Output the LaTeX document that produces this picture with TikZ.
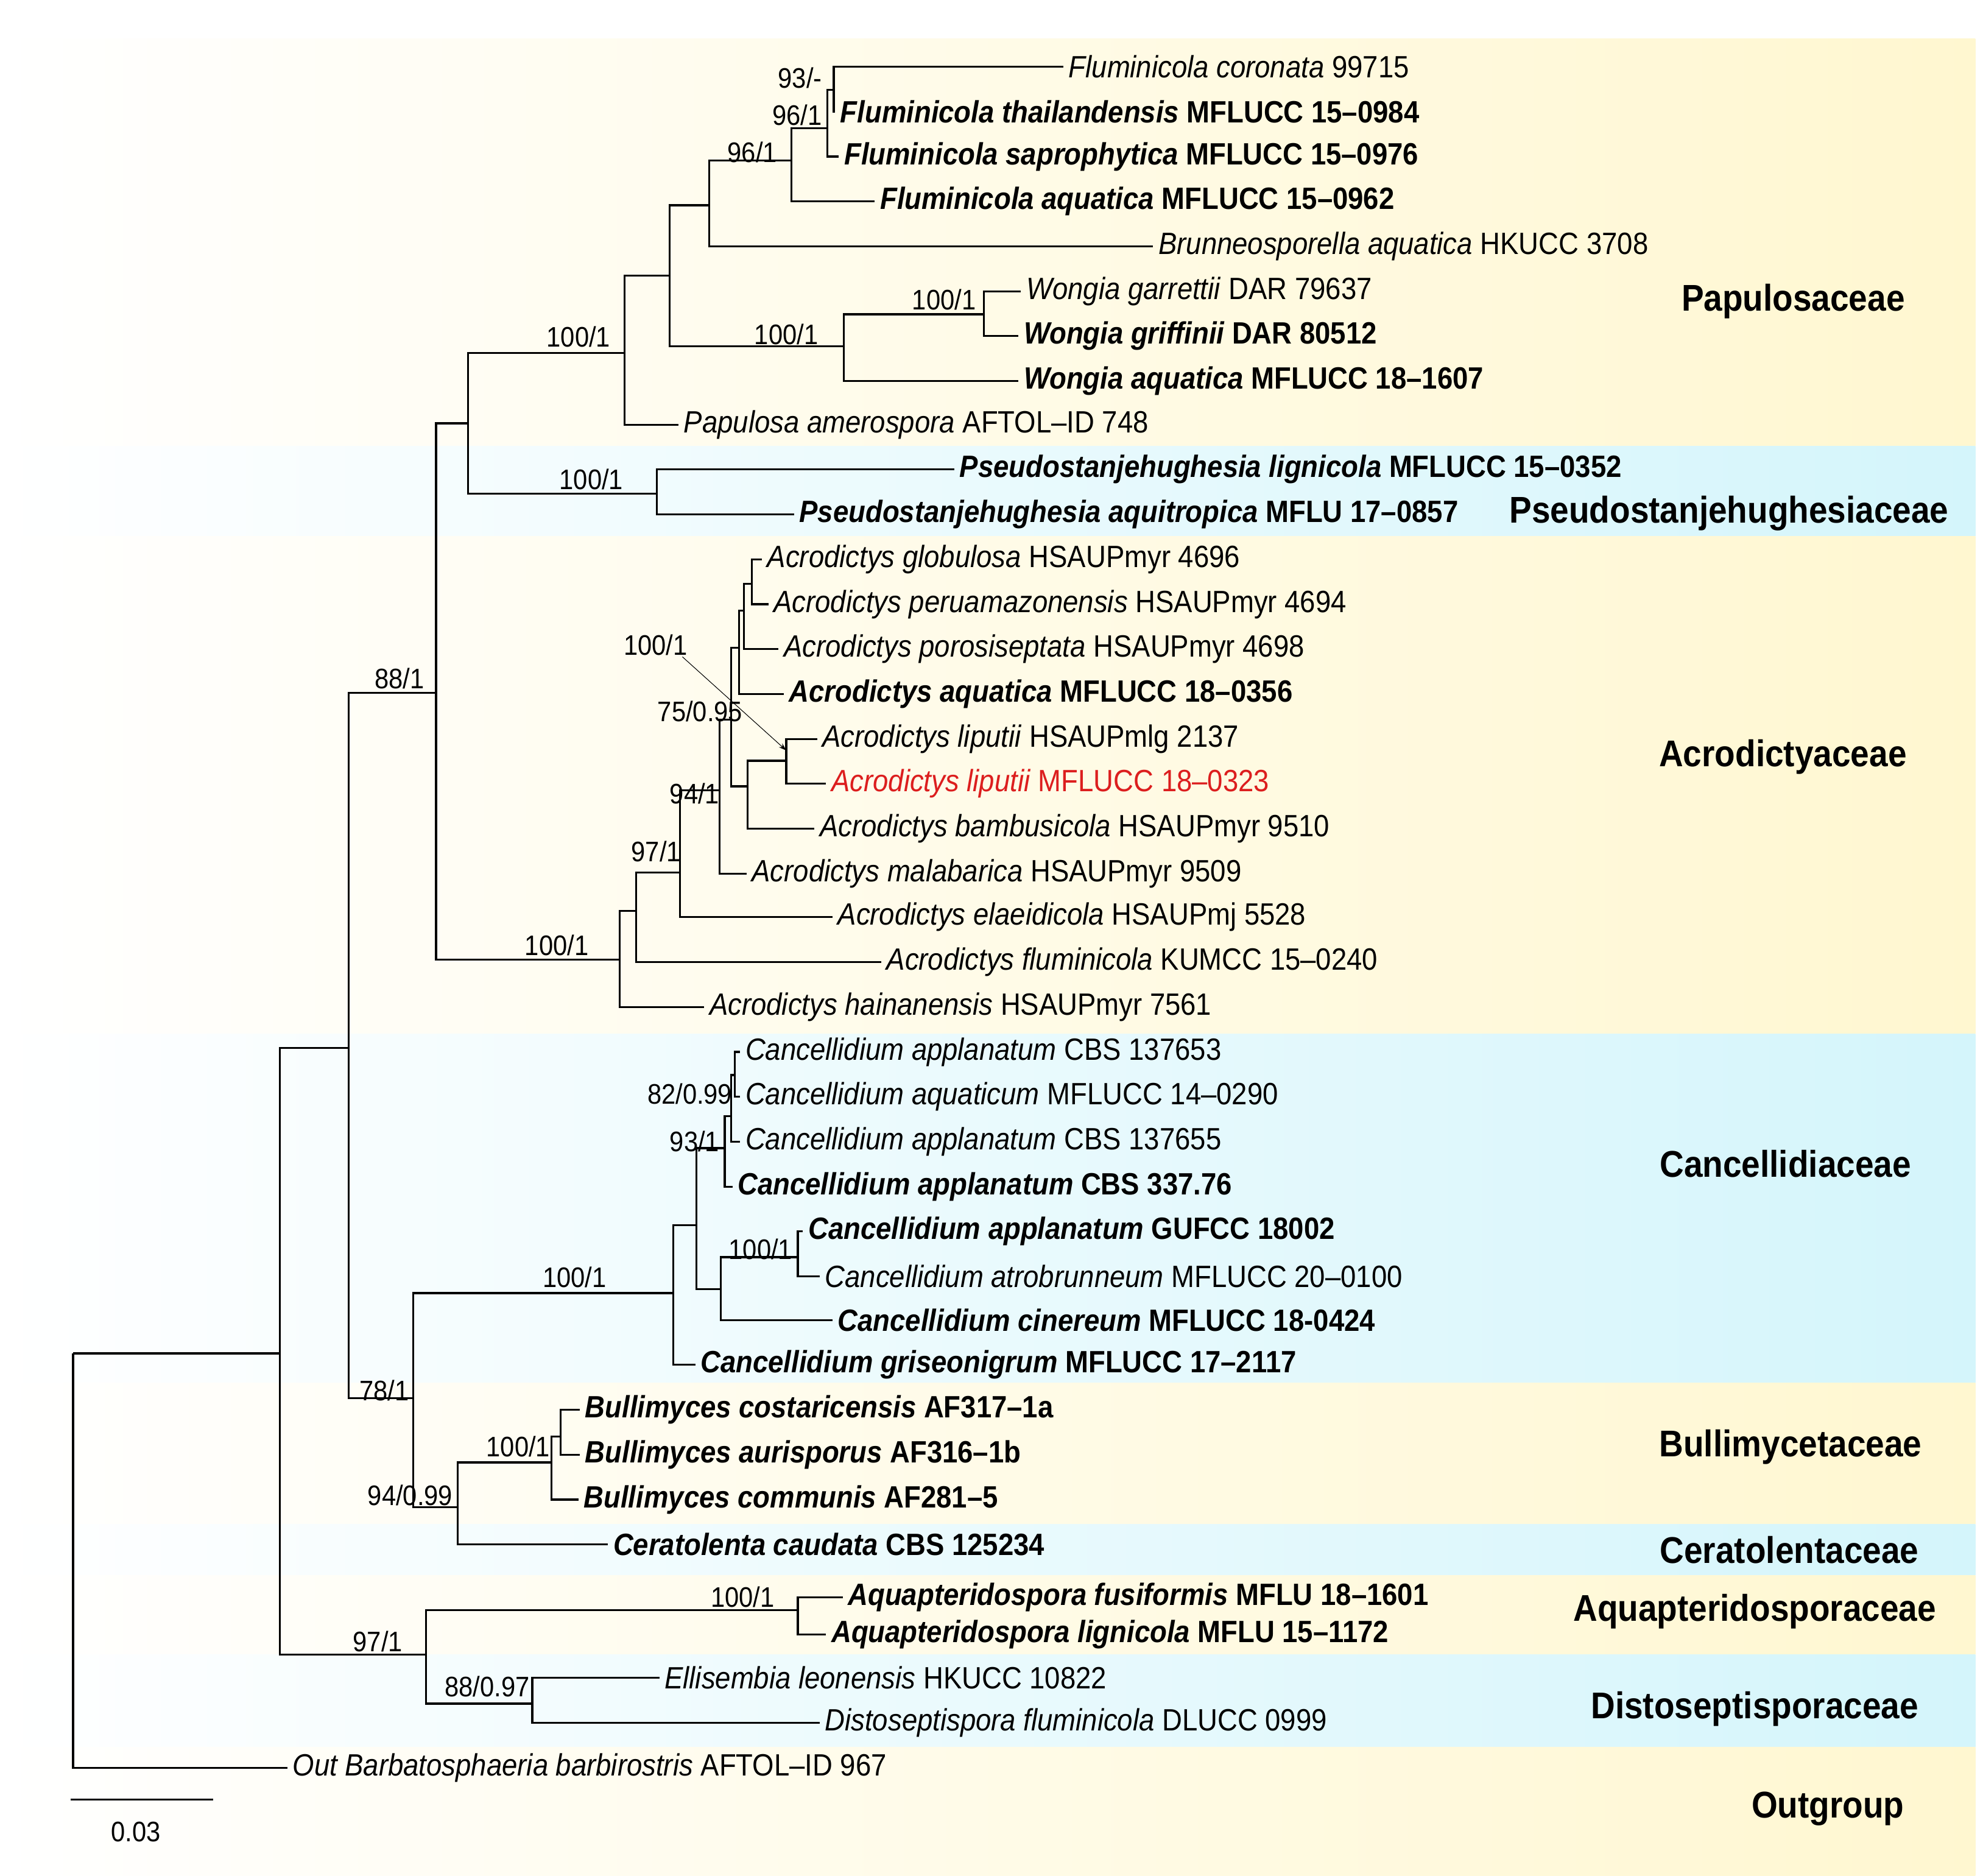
\documentclass[tikz,border=0pt]{standalone}
\usepackage{fontspec}
\setmainfont{Liberation Sans}[FakeStretch=0.9]
\usetikzlibrary{arrows.meta}
\definecolor{yel}{RGB}{255,247,208}
\definecolor{cya}{RGB}{212,245,251}
\definecolor{redl}{RGB}{220,30,30}
\begin{document}
\begin{tikzpicture}[x=1pt,y=-1pt,
  br/.style={line width=1.5pt,black},
  lf/.style={anchor=west,inner xsep=4pt,inner ysep=0pt,font=\fontsize{24}{26}\selectfont},
  bs/.style={anchor=south east,inner sep=1pt,font=\fontsize{22}{24}\selectfont},
  fam/.style={font=\fontsize{29}{32}\selectfont\bfseries,inner sep=0pt}]
\useasboundingbox (0,0) rectangle (1546,1462);
% background bands
\fill[white] (0,0) rectangle (1546,1462);
\shade[left color=white,right color=yel] (0,30) rectangle (1540,348);
\shade[left color=white,right color=cya] (0,348) rectangle (1540,418);
\shade[left color=white,right color=yel] (0,418) rectangle (1540,806);
\shade[left color=white,right color=cya] (0,806) rectangle (1540,1078);
\shade[left color=white,right color=yel] (0,1078) rectangle (1540,1188);
\shade[left color=white,right color=cya] (0,1188) rectangle (1540,1228);
\shade[left color=white,right color=yel] (0,1228) rectangle (1540,1290);
\shade[left color=white,right color=cya] (0,1290) rectangle (1540,1362);
\shade[left color=white,right color=yel] (0,1362) rectangle (1540,1462);
% leaves
\node[lf] (l1) at (829,52) {\textit{Fluminicola coronata} 99715};
\node[lf] (l2) at (651,87) {\bfseries\itshape Fluminicola thailandensis \upshape MFLUCC 15–0984};
\node[lf] (l3) at (654,122) {\bfseries\itshape Fluminicola saprophytica \upshape MFLUCC 15–0976};
\node[lf] (l4) at (682,157) {\bfseries\itshape Fluminicola aquatica \upshape MFLUCC 15–0962};
\node[lf] (l5) at (899,192) {\textit{Brunneosporella aquatica} HKUCC 3708};
\node[lf] (l6) at (796,227) {\textit{Wongia garrettii} DAR 79637};
\node[lf] (l7) at (794,262) {\bfseries\itshape Wongia griffinii \upshape DAR 80512};
\node[lf] (l8) at (794,297) {\bfseries\itshape Wongia aquatica \upshape MFLUCC 18–1607};
\node[lf] (l9) at (529,331) {\textit{Papulosa amerospora} AFTOL–ID 748};
\node[lf] (l10) at (744,366) {\bfseries\itshape Pseudostanjehughesia lignicola \upshape MFLUCC 15–0352};
\node[lf] (l11) at (619,401) {\bfseries\itshape Pseudostanjehughesia aquitropica \upshape MFLU 17–0857};
\node[lf] (l12) at (594,436) {\textit{Acrodictys globulosa} HSAUPmyr 4696};
\node[lf] (l13) at (599,471) {\textit{Acrodictys peruamazonensis} HSAUPmyr 4694};
\node[lf] (l14) at (607,506) {\textit{Acrodictys porosiseptata} HSAUPmyr 4698};
\node[lf] (l15) at (611,541) {\bfseries\itshape Acrodictys aquatica \upshape MFLUCC 18–0356};
\node[lf] (l16) at (637,576) {\textit{Acrodictys liputii} HSAUPmlg 2137};
\node[lf,text=redl] (l17) at (644,611) {\textit{Acrodictys liputii} MFLUCC 18–0323};
\node[lf] (l18) at (635,646) {\textit{Acrodictys bambusicola} HSAUPmyr 9510};
\node[lf] (l19) at (582,681) {\textit{Acrodictys malabarica} HSAUPmyr 9509};
\node[lf] (l20) at (649,715) {\textit{Acrodictys elaeidicola} HSAUPmj 5528};
\node[lf] (l21) at (687,750) {\textit{Acrodictys fluminicola} KUMCC 15–0240};
\node[lf] (l22) at (549,785) {\textit{Acrodictys hainanensis} HSAUPmyr 7561};
\node[lf] (l23) at (577,820) {\textit{Cancellidium applanatum} CBS 137653};
\node[lf] (l24) at (577,855) {\textit{Cancellidium aquaticum} MFLUCC 14–0290};
\node[lf] (l25) at (577,890) {\textit{Cancellidium applanatum} CBS 137655};
\node[lf] (l26) at (571,925) {\bfseries\itshape Cancellidium applanatum \upshape CBS 337.76};
\node[lf] (l27) at (626,960) {\bfseries\itshape Cancellidium applanatum \upshape GUFCC 18002};
\node[lf] (l28) at (639,995) {\textit{Cancellidium atrobrunneum} MFLUCC 20–0100};
\node[lf] (l29) at (649,1029) {\bfseries\itshape Cancellidium cinereum \upshape MFLUCC 18-0424};
\node[lf] (l30) at (542,1064) {\bfseries\itshape Cancellidium griseonigrum \upshape MFLUCC 17–2117};
\node[lf] (l31) at (452,1099) {\bfseries\itshape Bullimyces costaricensis \upshape AF317–1a};
\node[lf] (l32) at (452,1134) {\bfseries\itshape Bullimyces aurisporus \upshape AF316–1b};
\node[lf] (l33) at (451,1169) {\bfseries\itshape Bullimyces communis \upshape AF281–5};
\node[lf] (l34) at (474,1204) {\bfseries\itshape Ceratolenta caudata \upshape CBS 125234};
\node[lf] (l35) at (657,1245) {\bfseries\itshape Aquapteridospora fusiformis \upshape MFLU 18–1601};
\node[lf] (l36) at (644,1274) {\bfseries\itshape Aquapteridospora lignicola \upshape MFLU 15–1172};
\node[lf] (l37) at (514,1308) {\textit{Ellisembia leonensis} HKUCC 10822};
\node[lf] (l38) at (639,1343) {\textit{Distoseptispora fluminicola} DLUCC 0999};
\node[lf] (l39) at (224,1378) {\textit{Out Barbatosphaeria barbirostris} AFTOL–ID 967};
% internal nodes
\coordinate (root) at (57,1055);
\coordinate (nA) at (218,1055);
\coordinate (nB) at (272,817);
\coordinate (nC) at (340,540);
\coordinate (nD) at (322,1090);
\coordinate (nAD) at (332,1290);
\coordinate (nP) at (365,330);
\coordinate (nAc) at (483,748);
\coordinate (nPap) at (487,275);
\coordinate (nPs) at (512,385);
\coordinate (n1) at (522,215);
\coordinate (n2) at (553,160);
\coordinate (nW) at (658,270);
\coordinate (nF) at (617,125);
\coordinate (nF2) at (645,100);
\coordinate (nF3) at (650,70);
\coordinate (nW2) at (767,245);
\coordinate (nA1) at (496,710);
\coordinate (nA2) at (530,680);
\coordinate (nA3) at (561,616);
\coordinate (nA4) at (570,561);
\coordinate (nA5) at (576,505);
\coordinate (nA6) at (583,613);
\coordinate (nA7) at (580,476);
\coordinate (nA8) at (586,455);
\coordinate (nA9) at (613,593);
\coordinate (nCa) at (525,1008);
\coordinate (nBC) at (357,1175);
\coordinate (nC1) at (543,955);
\coordinate (nC2) at (565,895);
\coordinate (nC3) at (562,1005);
\coordinate (nC4) at (570,870);
\coordinate (nC5) at (573,838);
\coordinate (nC6) at (622,980);
\coordinate (nBu) at (430,1140);
\coordinate (nBu2) at (437,1120);
\coordinate (nAq) at (622,1255);
\coordinate (nDi) at (415,1328);
% branches
\draw[br] (root) |- (nA); \draw[br] (root) |- (l39.west);
\draw[br] (nA) |- (nB); \draw[br] (nA) |- (nAD);
\draw[br] (nB) |- (nC); \draw[br] (nB) |- (nD);
\draw[br] (nC) |- (nP); \draw[br] (nC) |- (nAc);
\draw[br] (nP) |- (nPap); \draw[br] (nP) |- (nPs);
\draw[br] (nPap) |- (n1); \draw[br] (nPap) |- (l9.west);
\draw[br] (n1) |- (n2); \draw[br] (n1) |- (nW);
\draw[br] (n2) |- (nF); \draw[br] (n2) |- (l5.west);
\draw[br] (nF) |- (nF2); \draw[br] (nF) |- (l4.west);
\draw[br] (nF2) |- (nF3); \draw[br] (nF2) |- (l3.west);
\draw[br] (nF3) |- (l1.west); \draw[br] (nF3) |- (l2.west);
\draw[br] (nW) |- (nW2); \draw[br] (nW) |- (l8.west);
\draw[br] (nW2) |- (l6.west); \draw[br] (nW2) |- (l7.west);
\draw[br] (nPs) |- (l10.west); \draw[br] (nPs) |- (l11.west);
\draw[br] (nAc) |- (nA1); \draw[br] (nAc) |- (l22.west);
\draw[br] (nA1) |- (nA2); \draw[br] (nA1) |- (l21.west);
\draw[br] (nA2) |- (nA3); \draw[br] (nA2) |- (l20.west);
\draw[br] (nA3) |- (nA4); \draw[br] (nA3) |- (l19.west);
\draw[br] (nA4) |- (nA5); \draw[br] (nA4) |- (nA6);
\draw[br] (nA5) |- (nA7); \draw[br] (nA5) |- (l15.west);
\draw[br] (nA7) |- (nA8); \draw[br] (nA7) |- (l14.west);
\draw[br] (nA8) |- (l12.west); \draw[br] (nA8) |- (l13.west);
\draw[br] (nA6) |- (nA9); \draw[br] (nA6) |- (l18.west);
\draw[br] (nA9) |- (l16.west); \draw[br] (nA9) |- (l17.west);
\draw[br] (nD) |- (nCa); \draw[br] (nD) |- (nBC);
\draw[br] (nCa) |- (nC1); \draw[br] (nCa) |- (l30.west);
\draw[br] (nC1) |- (nC2); \draw[br] (nC1) |- (nC3);
\draw[br] (nC2) |- (nC4); \draw[br] (nC2) |- (l26.west);
\draw[br] (nC4) |- (nC5); \draw[br] (nC4) |- (l25.west);
\draw[br] (nC5) |- (l23.west); \draw[br] (nC5) |- (l24.west);
\draw[br] (nC3) |- (nC6); \draw[br] (nC3) |- (l29.west);
\draw[br] (nC6) |- (l27.west); \draw[br] (nC6) |- (l28.west);
\draw[br] (nBC) |- (nBu); \draw[br] (nBC) |- (l34.west);
\draw[br] (nBu) |- (nBu2); \draw[br] (nBu) |- (l33.west);
\draw[br] (nBu2) |- (l31.west); \draw[br] (nBu2) |- (l32.west);
\draw[br] (nAD) |- (nAq); \draw[br] (nAD) |- (nDi);
\draw[br] (nAq) |- (l35.west); \draw[br] (nAq) |- (l36.west);
\draw[br] (nDi) |- (l37.west); \draw[br] (nDi) |- (l38.west);
% support values
\node[bs] (s1) at (642,70) {93/-};
\node[bs] (s2) at (642,99) {96/1};
\node[bs] (s3) at (607,128) {96/1};
\node[bs] (s4) at (477,272) {100/1};
\node[bs] (s5) at (639,270) {100/1};
\node[bs] (s6) at (762,243) {100/1};
\node[bs] (s7) at (487,383) {100/1};
\node[bs] (s8) at (332,538) {88/1};
\node[bs] (s9) at (537,512) {100/1};
\node[bs] (s10) at (580,564) {75/0.95};
\node[bs] (s11) at (562,628) {94/1};
\node[bs] (s12) at (532,673) {97/1};
\node[bs] (s13) at (460,746) {100/1};
\node[bs] (s14) at (572,862) {82/0.99};
\node[bs] (s15) at (562,899) {93/1};
\node[bs] (s16) at (619,983) {100/1};
\node[bs] (s17) at (474,1005) {100/1};
\node[bs] (s18) at (320,1093) {78/1};
\node[bs] (s19) at (430,1137) {100/1};
\node[bs] (s20) at (354,1175) {94/0.99};
\node[bs] (s21) at (605,1254) {100/1};
\node[bs] (s22) at (315,1289) {97/1};
\node[bs] (s23) at (414,1324) {88/0.97};
\coordinate (ptr) at (613,585);
\draw[line width=0.5pt,-{Stealth[length=6pt,width=4pt]}] (s9.south east) ++(-5,0) -- (ptr);
% families
\node[fam] (f1) at (1398,235) {Papulosaceae};
\node[fam] (f2) at (1348,400) {Pseudostanjehughesiaceae};
\node[fam] (f3) at (1390,590) {Acrodictyaceae};
\node[fam] (f4) at (1392,907) {Cancellidiaceae};
\node[fam] (f5) at (1396,1128) {Bullimycetaceae};
\node[fam] (f6) at (1395,1208) {Ceratolentaceae};
\node[fam] (f7) at (1368,1256) {Aquapteridosporaceae};
\node[fam] (f8) at (1368,1332) {Distoseptisporaceae};
\node[fam] (f9) at (1425,1410) {Outgroup};
% scale bar
\coordinate (sb1) at (55,1403); \coordinate (sb2) at (166,1403);
\draw[br] (sb1) -- (sb2);
\node[font=\fontsize{22}{24}\selectfont] (sbl) at (106,1428) {0.03};
\end{tikzpicture}
\end{document}
